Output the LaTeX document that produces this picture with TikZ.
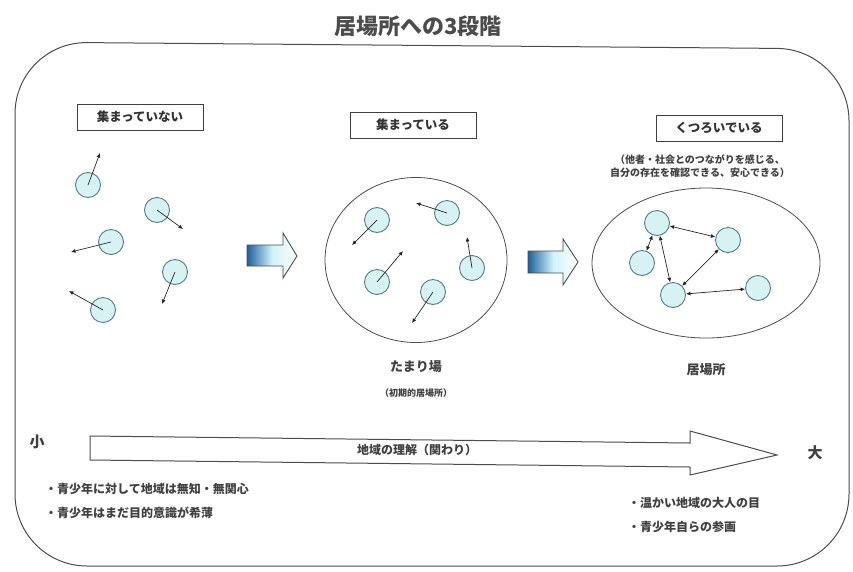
\documentclass[tikz,border=0pt]{standalone}
\usepackage{fontspec}
\setmainfont{Noto Sans CJK JP}
\usetikzlibrary{shapes.geometric,arrows.meta}
\definecolor{cfill}{HTML}{D6F2F2}
\definecolor{cline}{HTML}{4F7F86}
\definecolor{ablue}{HTML}{1E5E9E}
\definecolor{acyan}{HTML}{CFF3FA}
\tikzset{
 pers/.style={circle, draw=cline, fill=cfill, line width=0.9pt, minimum size=25pt, inner sep=0pt},
 mv/.style={-{Latex[length=4.5pt,width=4pt]}, line width=0.7pt, black!85},
 link/.style={{Latex[length=4.5pt,width=4pt]}-{Latex[length=4.5pt,width=4pt]}, line width=0.7pt, black!85},
 lbox/.style={draw=black!75, line width=0.8pt, minimum width=126pt, minimum height=26pt, inner sep=2pt, font=\fontsize{12.5}{15}\selectfont\bfseries, text=black!80},
 grp/.style={ellipse, draw=black!70, line width=0.8pt, inner sep=0pt},
 bluearrow/.style={draw=black!70, line width=0.9pt, left color=ablue, right color=white, middle color=acyan},
 txt/.style={inner sep=0pt, font=\fontsize{12}{14}\selectfont\bfseries, text=black!75},
 small/.style={inner sep=0pt, font=\fontsize{10}{13}\selectfont\bfseries, text=black!75},
}
\begin{document}
\begin{tikzpicture}[x=1pt,y=-1pt]
\useasboundingbox (0,0) rectangle (853,571);
% frame
\draw[black!70, line width=1pt, rounded corners=72pt] (15,42) -- (849,49) -- (849,566) -- (15,566) -- cycle;
% title
\node[inner sep=0pt, font=\fontsize{22}{24}\selectfont\bfseries, text=black!70] (title) at (418,26) {居場所への3段階};

% stage labels
\node[lbox] (b1) at (140,117) {集まっていない};
\node[lbox] (b2) at (413,125) {集まっている};
\node[lbox] (b3) at (719,128) {くつろいでいる};
\node[small, align=center] (sub) at (700,166) {（他者・社会とのつながりを感じる、\\自分の存在を確認できる、安心できる）};

% stage 1: scattered people
\node[pers] (a1) at (88,185) {};
\node[pers] (a2) at (157,210) {};
\node[pers] (a3) at (111,242) {};
\node[pers] (a4) at (175,272) {};
\node[pers] (a5) at (103,310) {};
\coordinate (ta1) at (100,153);
\coordinate (ta2) at (183,229);
\coordinate (ta3) at (71,252);
\coordinate (ta4) at (162,304);
\coordinate (ta5) at (69,291);
\foreach \i in {1,...,5} \draw[mv] (a\i.center) -- (ta\i);

% block arrows
\draw[bluearrow] (247,245) -- (283,245) -- (283,233) -- (297,256) -- (283,278) -- (283,266) -- (247,266) -- cycle;
\draw[bluearrow] (528,251) -- (563,251) -- (563,239) -- (578,262) -- (563,285) -- (563,273) -- (528,273) -- cycle;

% stage 2: gathering place
\node[grp, minimum width=182pt, minimum height=165pt] (g2) at (416,260) {};
\node[pers] (m1) at (377,220) {};
\node[pers] (m2) at (447,213) {};
\node[pers] (m3) at (472,268) {};
\node[pers] (m4) at (377,282) {};
\node[pers] (m5) at (433,292) {};
\coordinate (tm1) at (352,245);
\coordinate (tm2) at (416,203);
\coordinate (tm3) at (467,237);
\coordinate (tm4) at (403,251);
\coordinate (tm5) at (412,323);
\foreach \i in {1,...,5} \draw[mv] (m\i.center) -- (tm\i);
\node[txt, font=\fontsize{13}{15}\selectfont\bfseries] (l2) at (416,367) {たまり場};
\node[small, font=\fontsize{9}{11}\selectfont\bfseries] (l2b) at (416,393) {（初期的居場所）};

% stage 3: place to belong
\node[grp, minimum width=228pt, minimum height=150pt] (g3) at (706,263) {};
\node[pers] (r1) at (657,223) {};
\node[pers] (r2) at (728,240) {};
\node[pers] (r3) at (642,263) {};
\node[pers] (r4) at (673,295) {};
\node[pers] (r5) at (758,288) {};
\draw[link] (r1) -- (r2);
\draw[link] (r1) -- (r3);
\draw[link] (r1) -- (r4);
\draw[link] (r4) -- (r2);
\draw[link] (r4) -- (r5);
\node[txt, font=\fontsize{13}{15}\selectfont\bfseries] (l3) at (706,370) {居場所};

% scale arrow
\node[txt, font=\fontsize{15}{17}\selectfont\bfseries] (lo) at (37,442) {小};
\node[txt, font=\fontsize{15}{17}\selectfont\bfseries] (hi) at (815,453) {大};
\draw[black!70, line width=1pt, fill=white] (90,436) -- (690,443) -- (690,431) -- (777,455) -- (690,475) -- (690,467) -- (90,460) -- cycle;
\node[txt] (scale) at (417,450) {地域の理解（関わり）};

% notes
\node[txt, anchor=west, align=left] (n1) at (45,489) {・青少年に対して地域は無知・無関心};
\node[txt, anchor=west, align=left] (n2) at (45,513) {・青少年はまだ目的意識が希薄};
\node[txt, anchor=west, align=left] (n3) at (628,503) {・温かい地域の大人の目};
\node[txt, anchor=west, align=left] (n4) at (628,527) {・青少年自らの参画};
\end{tikzpicture}
\end{document}
